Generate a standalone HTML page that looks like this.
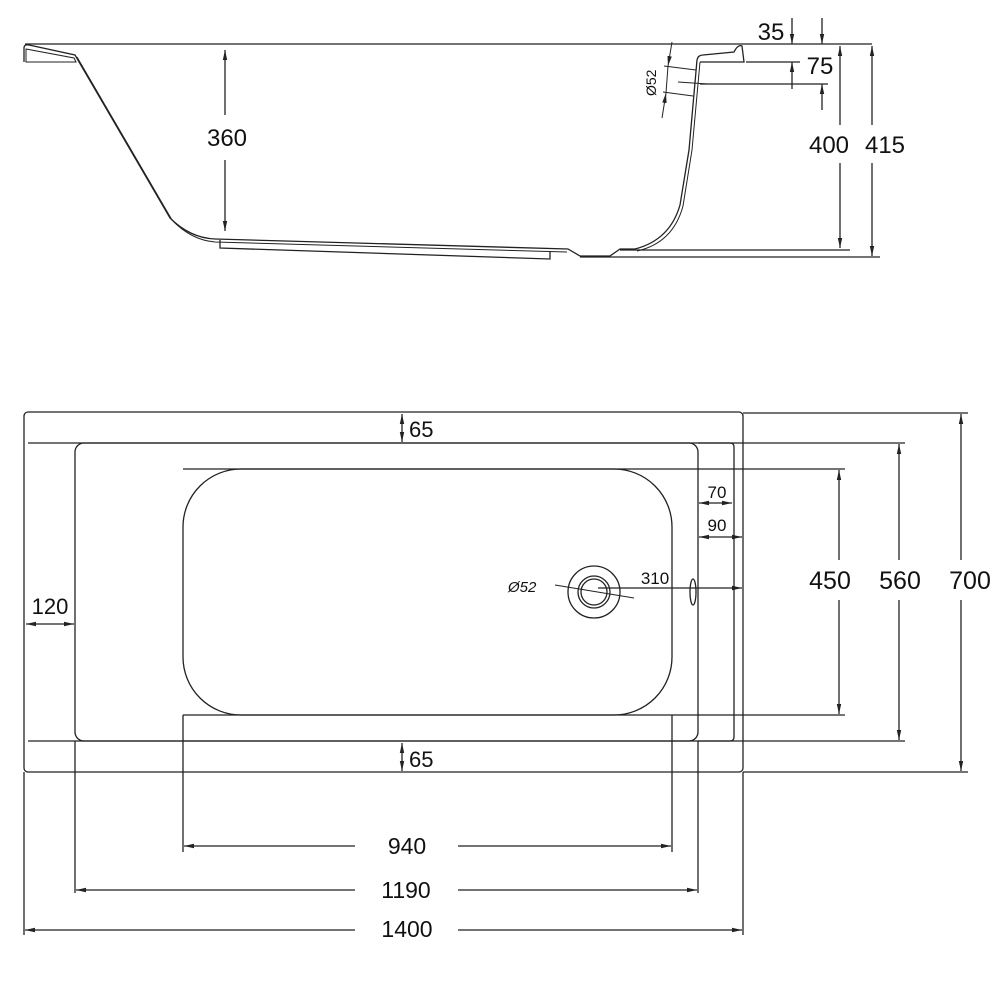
<!DOCTYPE html>
<html><head><meta charset="utf-8"><style>html,body{margin:0;padding:0;background:#fff}svg{display:block}</style></head>
<body>
<svg width="1000" height="1000" viewBox="0 0 1000 1000" xmlns="http://www.w3.org/2000/svg" font-family="Liberation Sans, sans-serif">
<defs>
<marker id="a" viewBox="0 0 10 6" refX="10" refY="3" markerWidth="10" markerHeight="6" orient="auto-start-reverse" markerUnits="userSpaceOnUse"><path d="M0,0.8 L10,3 L0,5.2z" fill="#222"/></marker>
</defs>
<g fill="none" stroke="#222" stroke-width="1.3">
<!-- SIDE VIEW -->
<line x1="25" y1="44" x2="872" y2="44"/>
<path d="M24,62 L24,48 Q24,44 29,45 L75,55 L170,218 Q190,238 215,239 L568,249 L580,256 L610,256 L620,249 L635,249 Q670,240 680,205 L689,150 L697,60 Q698,55 703,55 L734,52 Q738,44 742,46 L744,62 L700,62"/>
<path d="M26,62 L26,49 L74,58 L76,62 Z" stroke-width="1"/>
<path d="M77,57 L172,220 Q191,240 215,242 L567,252" stroke-width="1"/>
<path d="M637,251 Q673,243 683,206 L692,150 L700,62" stroke-width="1"/>
<path d="M220,240 L220,248 L550,259 L550,252"/>
<line x1="620" y1="250" x2="850" y2="250"/>
<line x1="580" y1="257" x2="880" y2="257"/>
<line x1="225" y1="50" x2="225" y2="115" marker-start="url(#a)"/>
<line x1="225" y1="160" x2="225" y2="231" marker-end="url(#a)"/>
<line x1="840" y1="46" x2="840" y2="125" marker-start="url(#a)"/>
<line x1="840" y1="163" x2="840" y2="248" marker-end="url(#a)"/>
<line x1="872" y1="46" x2="872" y2="125" marker-start="url(#a)"/>
<line x1="872" y1="163" x2="872" y2="256" marker-end="url(#a)"/>
<line x1="792" y1="18" x2="792" y2="44" marker-end="url(#a)"/>
<line x1="792" y1="89" x2="792" y2="62" marker-end="url(#a)"/>
<line x1="822" y1="18" x2="822" y2="44" marker-end="url(#a)"/>
<line x1="822" y1="110" x2="822" y2="84" marker-end="url(#a)"/>
<line x1="746" y1="62" x2="800" y2="62"/>
<line x1="700" y1="84" x2="828" y2="84"/>
<line x1="678" y1="82" x2="708" y2="84" stroke-width="1"/>
<line x1="664" y1="66" x2="696" y2="70" stroke-width="1"/>
<line x1="663" y1="92" x2="693" y2="96" stroke-width="1"/>
<line x1="672" y1="42" x2="668" y2="66" marker-end="url(#a)" stroke-width="1"/>
<line x1="662" y1="118" x2="666" y2="93" marker-end="url(#a)" stroke-width="1"/>
<line x1="668" y1="66" x2="666" y2="93" stroke-width="1"/>

<!-- PLAN VIEW -->
<rect x="24" y="412" width="719" height="360" rx="4"/>
<line x1="28" y1="443" x2="905" y2="443"/>
<line x1="28" y1="741" x2="905" y2="741"/>
<line x1="183" y1="469" x2="845" y2="469"/>
<line x1="183" y1="715" x2="845" y2="715"/>
<line x1="743" y1="413" x2="968" y2="413"/>
<line x1="743" y1="772" x2="968" y2="772"/>
<rect x="75" y="443" width="623" height="298" rx="9"/>
<path d="M698,443 L730,443 Q734,443 734,447 L734,737 Q734,741 730,741 L698,741"/>
<rect x="183" y="469" width="489" height="246" rx="58"/>
<line x1="24" y1="772" x2="24" y2="935"/>
<line x1="743" y1="772" x2="743" y2="935"/>
<line x1="75" y1="741" x2="75" y2="893"/>
<line x1="698" y1="741" x2="698" y2="893"/>
<line x1="183" y1="715" x2="183" y2="852"/>
<line x1="672" y1="715" x2="672" y2="852"/>
<line x1="184" y1="846" x2="355" y2="846" marker-start="url(#a)"/>
<line x1="458" y1="846" x2="671" y2="846" marker-end="url(#a)"/>
<line x1="76" y1="890" x2="355" y2="890" marker-start="url(#a)"/>
<line x1="458" y1="890" x2="697" y2="890" marker-end="url(#a)"/>
<line x1="25" y1="930" x2="355" y2="930" marker-start="url(#a)"/>
<line x1="458" y1="930" x2="742" y2="930" marker-end="url(#a)"/>
<line x1="839" y1="470" x2="839" y2="560" marker-start="url(#a)"/>
<line x1="839" y1="600" x2="839" y2="714" marker-end="url(#a)"/>
<line x1="899" y1="444" x2="899" y2="560" marker-start="url(#a)"/>
<line x1="899" y1="600" x2="899" y2="740" marker-end="url(#a)"/>
<line x1="961" y1="414" x2="961" y2="560" marker-start="url(#a)"/>
<line x1="961" y1="600" x2="961" y2="771" marker-end="url(#a)"/>
<line x1="402" y1="414" x2="402" y2="442" marker-start="url(#a)" marker-end="url(#a)"/>
<line x1="402" y1="743" x2="402" y2="771" marker-start="url(#a)" marker-end="url(#a)"/>
<line x1="26" y1="624" x2="74" y2="624" marker-start="url(#a)" marker-end="url(#a)"/>
<line x1="699" y1="503" x2="732" y2="503" marker-start="url(#a)" marker-end="url(#a)"/>
<line x1="699" y1="537" x2="742" y2="537" marker-start="url(#a)" marker-end="url(#a)"/>
<circle cx="594" cy="592" r="26"/>
<circle cx="594" cy="592" r="16"/>
<circle cx="594" cy="592" r="13"/>
<ellipse cx="693" cy="592" rx="3" ry="13"/>
<line x1="598" y1="588" x2="742" y2="588" marker-end="url(#a)"/>
<line x1="555" y1="585" x2="634" y2="598" stroke-width="1"/>
</g>
<g fill="#111" font-size="24">
<text x="227" y="146" text-anchor="middle">360</text>
<text x="829" y="153" text-anchor="middle">400</text>
<text x="885" y="153" text-anchor="middle">415</text>
<text x="771" y="40" text-anchor="middle">35</text>
<text x="820" y="74" text-anchor="middle">75</text>
<text x="0" y="0" font-size="14" transform="translate(656,96) rotate(-90)">Ø52</text>
<text x="409" y="437" font-size="22">65</text>
<text x="409" y="767" font-size="22">65</text>
<text x="50" y="614" font-size="22" text-anchor="middle">120</text>
<text x="717" y="498" font-size="17" text-anchor="middle">70</text>
<text x="717" y="531" font-size="17" text-anchor="middle">90</text>
<text x="655" y="584" font-size="17" text-anchor="middle">310</text>
<text x="508" y="592" font-size="15" font-style="italic">Ø52</text>
<text x="830" y="589" font-size="25" text-anchor="middle">450</text>
<text x="900" y="589" font-size="25" text-anchor="middle">560</text>
<text x="970" y="589" font-size="25" text-anchor="middle">700</text>
<text x="407" y="854" font-size="23" text-anchor="middle">940</text>
<text x="406" y="898" font-size="23" text-anchor="middle">1190</text>
<text x="407" y="937" font-size="23" text-anchor="middle">1400</text>
</g>
</svg>
</body></html>
